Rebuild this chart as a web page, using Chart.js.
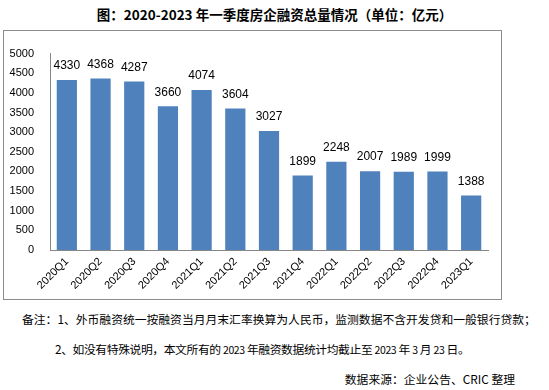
<!DOCTYPE html>
<html>
<head>
<meta charset="utf-8">
<script src="https://cdn.jsdelivr.net/npm/chart.js@4/dist/chart.umd.min.js"></script>
<style>
  body { margin: 0; width: 549px; height: 390px; background: #fff; position: relative; font-family: "Noto Sans CJK SC", sans-serif; }
  #title { position: absolute; left: 0; width: 549px; top: 4px; text-align: center; font-size: 13.5px; font-weight: bold; color: #000; }
  #box { position: absolute; left: 3px; top: 30px; width: 497px; height: 268px; border: 1px solid #8c8c8c; }
  .note { position: absolute; font-size: 11.8px; color: #000; white-space: nowrap; }
</style>
</head>
<body>
<div id="title">图：2020-2023 年一季度房企融资总量情况（单位：亿元）</div>
<div id="box"><canvas id="myChart" width="497" height="268"></canvas></div>
<div class="note" style="left:22px;top:310px;">备注：1、外币融资统一按融资当月月末汇率换算为人民币，监测数据不含开发贷和一般银行贷款；</div>
<div class="note" style="left:55px;top:340px;letter-spacing:-0.4px;"><span>2、如没有特殊说明，本文所有的 </span><span style="font-size:10.5px">2023</span> 年融资数据统计均截止至 <span style="font-size:10.5px">2023</span> 年 <span style="font-size:10.5px">3</span> 月 <span style="font-size:10.5px">23</span> 日。</div>
<div class="note" style="right:34px;top:370px;">数据来源：企业公告、CRIC 整理</div>
<script>
// data
const quarters = ['2020Q1','2020Q2','2020Q3','2020Q4','2021Q1','2021Q2','2021Q3','2021Q4','2022Q1','2022Q2','2022Q3','2022Q4','2023Q1'];
const amounts = [4330, 4368, 4287, 3660, 4074, 3604, 3027, 1899, 2248, 2007, 1989, 1999, 1388];
const yTicks = [0, 500, 1000, 1500, 2000, 2500, 3000, 3500, 4000, 4500, 5000];

const valueLabels = { // numbers above bars
    id: 'valueLabels',
    afterDatasetsDraw(chart) {
        const ctx = chart.ctx;
        const meta = chart.getDatasetMeta(0);
        ctx.save();
        ctx.font = '12px "Liberation Sans", sans-serif';
        ctx.fillStyle = '#000';
        ctx.textAlign = 'center';
        ctx.textBaseline = 'middle';
        meta.data.forEach((bar, i) => {
            ctx.fillText(amounts[i], bar.x, bar.y - 14);
        });
        ctx.restore();
    }
};

const myChart = document.getElementById('myChart').getContext('2d');
let quarterStats = new Chart(myChart, {
    type: 'bar',
    data: {
        labels: quarters,
        datasets: [{
            data: amounts,
            backgroundColor: '#4f81bd',
            barPercentage: 0.6,
            categoryPercentage: 1
        }]
    },
    options: {
        responsive: false,
        animation: false,
        layout: { padding: { top: 15, right: 13, left: 0, bottom: 0 } },
        plugins: { legend: { display: false }, tooltip: { enabled: false } },
        scales: {
            x: {
                grid: { display: false, drawTicks: false },
                border: { color: '#868686' },
                ticks: {
                    minRotation: 45, maxRotation: 45,
                    font: { size: 11, family: '"Liberation Sans", sans-serif' },
                    color: '#000', padding: 5
                },
                afterFit(scale) { scale.height = 49; }
            },
            y: {
                min: 0, max: 5000,
                afterBuildTicks(scale) { scale.ticks = yTicks.map(v => ({ value: v })); },
                grid: { display: false, drawTicks: false },
                border: { color: '#868686' },
                ticks: {
                    font: { size: 11, family: '"Liberation Sans", sans-serif' },
                    color: '#000', padding: 16,
                    callback: (v) => String(v)
                },
                afterFit(scale) { scale.width = 46; }
            }
        }
    },
    plugins: [valueLabels]
});
</script>
</body>
</html>
